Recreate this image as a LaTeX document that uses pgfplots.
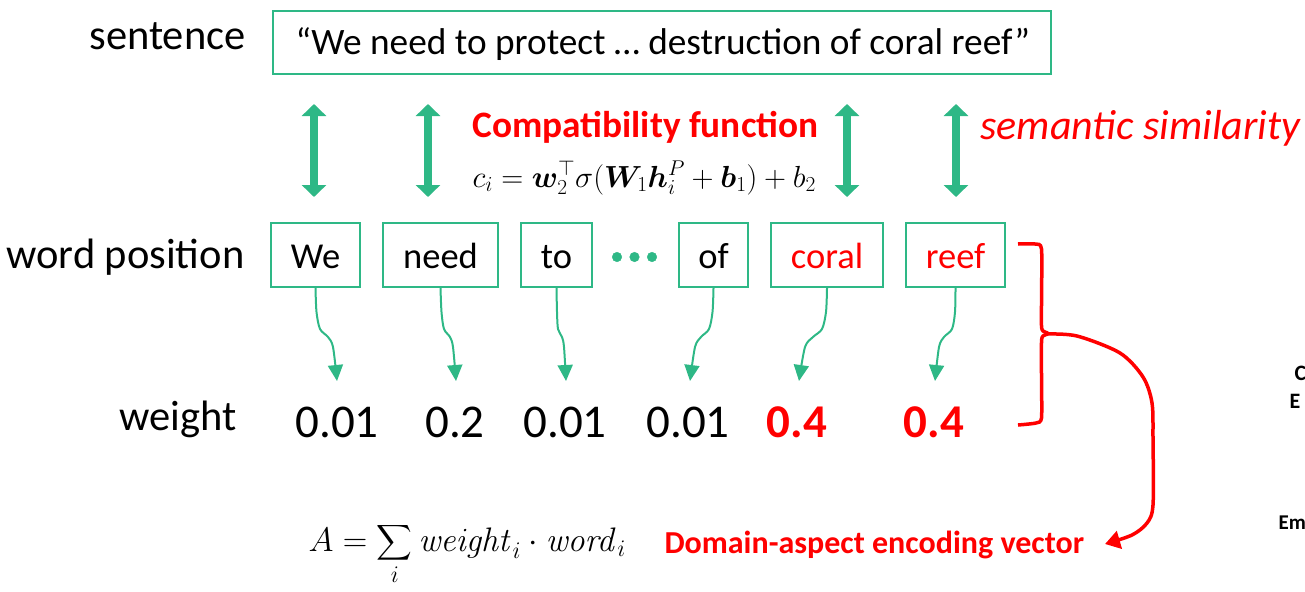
\RequirePackage{fix-cm}
\documentclass[border=0pt]{standalone}
\usepackage{amsmath,bm}
\usepackage[no-math]{fontspec}
\setmainfont{Carlito}
\usepackage{pgfplots}
\pgfplotsset{compat=1.18}
\usetikzlibrary{arrows.meta}
\definecolor{grn}{RGB}{46,184,134}
\definecolor{rd}{RGB}{255,0,0}
\newcommand{\fs}[1]{\fontsize{#1bp}{#1bp}\selectfont}
\begin{document}
\begin{tikzpicture}
\begin{axis}[
  width=1305bp, height=591bp, scale only axis,
  xmin=0, xmax=1305, ymin=0, ymax=591, y dir=reverse,
  hide axis, clip=false,
  every node/.style={inner sep=0pt, outer sep=0pt},
]
% ---- sentence box
\addplot[grn, line width=2.5bp] coordinates {(273,11) (1051,11) (1051,74) (273,74)} --cycle;
\node[anchor=base east] at (axis cs:249,50) {\fs{42.5}sentence};
\node[anchor=base west] at (axis cs:292,55) {\fs{37.3}“We need to protect … destruction of coral reef”};

% ---- double arrows
\pgfplotsinvokeforeach{314,428,847,956}{
\addplot[grn, line width=8bp, {Triangle[width=24bp,length=12bp]}-{Triangle[width=24bp,length=12bp]}] coordinates {(#1,104) (#1,197)};
}
\node[anchor=base west, text=rd] at (axis cs:469,137) {\fs{37.3}\bfseries Compatibility function};
\node[anchor=base west] at (axis cs:469,187) {\fs{30.5}$c_i = \bm{w}_2^{\top}\sigma(\bm{W}_1\bm{h}_i^{P} + \bm{b}_1) + b_2$};
\node[anchor=base west, text=rd] at (axis cs:977,139) {\fs{42}\itshape semantic similarity};

% ---- word boxes
\node[anchor=base east] at (axis cs:248,268) {\fs{42.5}word position};
\addplot[grn, line width=2.5bp] coordinates {(271,223) (360,223) (360,287) (271,287)} --cycle;
\addplot[grn, line width=2.5bp] coordinates {(383,223) (498,223) (498,287) (383,287)} --cycle;
\addplot[grn, line width=2.5bp] coordinates {(521,223) (592,223) (592,287) (521,287)} --cycle;
\addplot[grn, line width=2.5bp] coordinates {(679,223) (748,223) (748,287) (679,287)} --cycle;
\addplot[grn, line width=2.5bp] coordinates {(771,223) (883,223) (883,287) (771,287)} --cycle;
\addplot[grn, line width=2.5bp] coordinates {(906,223) (1005,223) (1005,287) (906,287)} --cycle;
\node[anchor=base] at (axis cs:315.5,268) {\fs{36.5}We};
\node[anchor=base] at (axis cs:440.5,268) {\fs{36.5}need};
\node[anchor=base] at (axis cs:556.5,268) {\fs{36.5}to};
\node[anchor=base] at (axis cs:713.5,268) {\fs{36.5}of};
\node[anchor=base, text=rd] at (axis cs:827,268) {\fs{36.5}coral};
\node[anchor=base, text=rd] at (axis cs:955.5,268) {\fs{36.5}reef};
\addplot[only marks, mark=*, mark size=4.8bp, grn] coordinates {(617,257) (634.5,257) (652,257)};

% ---- curvy arrows
\addplot[grn, line width=2bp, smooth, -{Triangle[width=15bp,length=16bp]}] coordinates {(315.5,288) (316.5,312) (320,329) (328,337) (333,347) (337,381)};
\addplot[grn, line width=2bp, smooth, -{Triangle[width=15bp,length=16bp]}] coordinates {(440.5,288) (441.5,312) (444,329) (450,337) (453,347) (456,381)};
\addplot[grn, line width=2bp, smooth, -{Triangle[width=15bp,length=16bp]}] coordinates {(556.5,288) (557,312) (558,329) (562,337) (564,347) (566,381)};
\addplot[grn, line width=2bp, smooth, -{Triangle[width=15bp,length=16bp]}] coordinates {(713.5,288) (712.5,312) (709,329) (701,337) (695,347) (690,381)};
\addplot[grn, line width=2bp, smooth, -{Triangle[width=15bp,length=16bp]}] coordinates {(827,288) (826,312) (822,329) (813,337) (805,347) (799,381)};
\addplot[grn, line width=2bp, smooth, -{Triangle[width=15bp,length=16bp]}] coordinates {(955.5,288) (955,312) (952,329) (944,337) (939,347) (935,381)};

% ---- weights
\node[anchor=base east] at (axis cs:240,430) {\fs{42.5}weight};
\node[anchor=base] at (axis cs:337,437) {\fs{47}0.01};
\node[anchor=base] at (axis cs:455,437) {\fs{47}0.2};
\node[anchor=base] at (axis cs:565,437) {\fs{47}0.01};
\node[anchor=base] at (axis cs:688,437) {\fs{47}0.01};
\node[anchor=base, text=rd] at (axis cs:797,437) {\fs{47}\bfseries 0.4};
\node[anchor=base, text=rd] at (axis cs:934,437) {\fs{47}\bfseries 0.4};

% ---- red bracket and arrow
\addplot[rd, line width=3.5bp, smooth, tension=0.4] coordinates {(1018,244) (1035,244) (1041.5,249) (1041.5,300) (1041.5,326) (1043,331) (1048,333)};
\addplot[rd, line width=3.5bp, smooth, tension=0.4] coordinates {(1048,334) (1043,336) (1041.5,342) (1041.5,380) (1041.5,418) (1036,423) (1018,425)};
\addplot[rd, line width=3.5bp, smooth, -{Triangle[width=18bp,length=15bp]}] coordinates {(1046,334) (1077,336) (1120,353) (1143,377) (1152,403) (1153,440) (1153,505) (1147,523) (1132,535) (1105,544)};

% ---- bottom formula
\node[anchor=base west] at (axis cs:305,551) {\fs{34}$A = \displaystyle\sum_i \mathit{weight}_i \cdot \mathit{word}_i$};
\node[anchor=base west, text=rd] at (axis cs:661,553) {\fs{32}\bfseries Domain-aspect encoding vector};

% ---- text at the right edge
\node[anchor=base west] at (axis cs:1291,380) {\fs{22}\bfseries C};
\node[anchor=base west] at (axis cs:1286,408) {\fs{22}\bfseries E};
\node[anchor=base west] at (axis cs:1275,529) {\fs{21}\bfseries Em};

\coordinate (BL) at (axis cs:0,591);
\coordinate (TR) at (axis cs:1305,0);
\end{axis}
\pgfresetboundingbox
\useasboundingbox (BL) rectangle (TR);
\end{tikzpicture}
\end{document}
